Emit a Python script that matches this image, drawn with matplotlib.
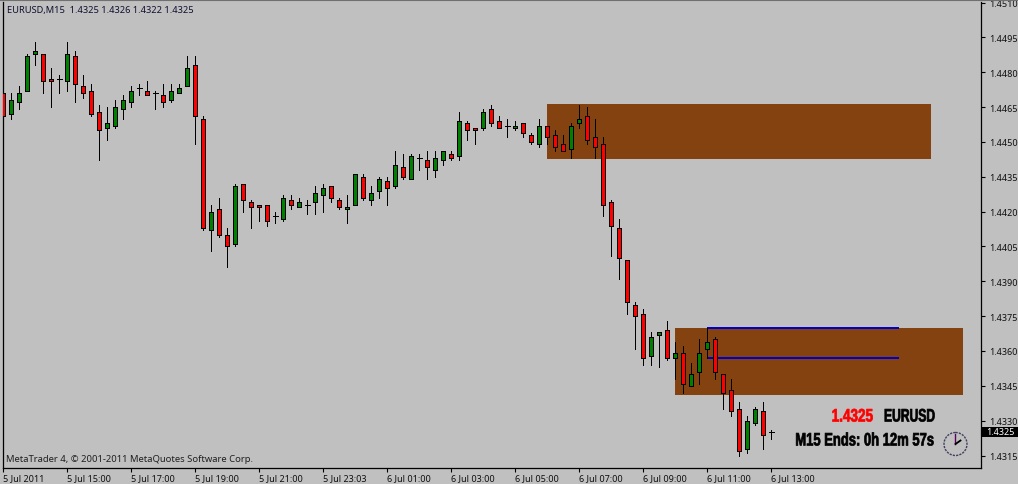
import numpy as np
import matplotlib
matplotlib.use('Agg')
import matplotlib.pyplot as plt
from matplotlib.patches import Circle, Rectangle
from matplotlib.patheffects import AbstractPathEffect
from matplotlib.transforms import Affine2D

W, H = 1018, 485
BG = '#C0C0C0'

# EURUSD M15 candles
opens = [
    1.4471, 1.4462, 1.4467, 1.4472, 1.4488, 1.4488, 1.4477, 1.4477, 1.4476, 1.4487,
    1.4474, 1.4472, 1.4463, 1.4456, 1.4457, 1.4464, 1.4467, 1.4473, 1.4472, 1.4471,
    1.4470, 1.4468, 1.4471, 1.4474, 1.4483, 1.4460, 1.4412, 1.4421, 1.4410, 1.4406,
    1.4432, 1.4424, 1.4423, 1.4423, 1.4418, 1.4417, 1.4425, 1.4422, 1.4423, 1.4424,
    1.4427, 1.4431, 1.4425, 1.4421, 1.4423, 1.4435, 1.4425, 1.4429, 1.4433, 1.4431,
    1.4439, 1.4434, 1.4443, 1.4442, 1.4438, 1.4442, 1.4445, 1.4444, 1.4458, 1.4456,
    1.4456, 1.4464, 1.4459, 1.4457, 1.4456, 1.4458, 1.4453, 1.4449, 1.4457, 1.4453,
    1.4449, 1.4447, 1.4458, 1.4461, 1.4452, 1.4449, 1.4424, 1.4413, 1.4399, 1.4380,
    1.4376, 1.4358, 1.4367, 1.4369, 1.4357, 1.4359, 1.4345, 1.4351, 1.4361, 1.4365,
    1.4350, 1.4343, 1.4335, 1.4318, 1.4329, 1.4334, 1.4325,
]
highs = [
    1.4472, 1.4471, 1.4474, 1.4488, 1.4493, 1.4488, 1.4482, 1.4479, 1.4493, 1.4489,
    1.4479, 1.4475, 1.4466, 1.4465, 1.4468, 1.4470, 1.4474, 1.4475, 1.4476, 1.4472,
    1.4475, 1.4475, 1.4475, 1.4487, 1.4487, 1.4461, 1.4423, 1.4426, 1.4413, 1.4432,
    1.4432, 1.4425, 1.4423, 1.4423, 1.4420, 1.4427, 1.4427, 1.4426, 1.4425, 1.4431,
    1.4432, 1.4431, 1.4426, 1.4427, 1.4436, 1.4436, 1.4431, 1.4435, 1.4435, 1.4446,
    1.4445, 1.4445, 1.4445, 1.4446, 1.4446, 1.4446, 1.4446, 1.4463, 1.4459, 1.4456,
    1.4464, 1.4466, 1.4461, 1.4460, 1.4459, 1.4458, 1.4454, 1.4460, 1.4457, 1.4455,
    1.4453, 1.4458, 1.4466, 1.4465, 1.4460, 1.4452, 1.4425, 1.4417, 1.4399, 1.4381,
    1.4378, 1.4368, 1.4368, 1.4373, 1.4364, 1.4362, 1.4355, 1.4365, 1.4370, 1.4366,
    1.4350, 1.4348, 1.4338, 1.4332, 1.4336, 1.4338, 1.4326,
]
lows = [
    1.4457, 1.4460, 1.4464, 1.4472, 1.4483, 1.4471, 1.4465, 1.4471, 1.4472, 1.4467,
    1.4469, 1.4461, 1.4442, 1.4451, 1.4456, 1.4460, 1.4465, 1.4470, 1.4470, 1.4464,
    1.4465, 1.4467, 1.4471, 1.4474, 1.4449, 1.4412, 1.4403, 1.4409, 1.4396, 1.4405,
    1.4420, 1.4413, 1.4416, 1.4414, 1.4415, 1.4416, 1.4421, 1.4422, 1.4419, 1.4419,
    1.4420, 1.4424, 1.4421, 1.4415, 1.4423, 1.4425, 1.4423, 1.4426, 1.4423, 1.4430,
    1.4434, 1.4434, 1.4438, 1.4434, 1.4435, 1.4440, 1.4442, 1.4442, 1.4451, 1.4449,
    1.4455, 1.4457, 1.4456, 1.4452, 1.4455, 1.4452, 1.4449, 1.4448, 1.4449, 1.4446,
    1.4446, 1.4443, 1.4456, 1.4449, 1.4443, 1.4418, 1.4401, 1.4391, 1.4376, 1.4361,
    1.4354, 1.4354, 1.4353, 1.4356, 1.4348, 1.4342, 1.4345, 1.4346, 1.4357, 1.4348,
    1.4335, 1.4332, 1.4315, 1.4316, 1.4328, 1.4318, 1.4322,
]
closes = [
    1.4461, 1.4468, 1.4471, 1.4487, 1.4489, 1.4476, 1.4476, 1.4477, 1.4488, 1.4475,
    1.4471, 1.4462, 1.4455, 1.4458, 1.4465, 1.4468, 1.4472, 1.4473, 1.4470, 1.4471,
    1.4467, 1.4472, 1.4473, 1.4482, 1.4461, 1.4413, 1.4420, 1.4410, 1.4405, 1.4431,
    1.4425, 1.4422, 1.4422, 1.4416, 1.4418, 1.4426, 1.4423, 1.4424, 1.4423, 1.4428,
    1.4430, 1.4426, 1.4422, 1.4422, 1.4436, 1.4426, 1.4428, 1.4434, 1.4430, 1.4440,
    1.4435, 1.4444, 1.4443, 1.4439, 1.4443, 1.4446, 1.4443, 1.4459, 1.4455, 1.4455,
    1.4463, 1.4458, 1.4456, 1.4457, 1.4457, 1.4454, 1.4450, 1.4457, 1.4452, 1.4448,
    1.4446, 1.4457, 1.4460, 1.4451, 1.4448, 1.4423, 1.4414, 1.4400, 1.4381, 1.4375,
    1.4357, 1.4366, 1.4368, 1.4357, 1.4359, 1.4346, 1.4350, 1.4359, 1.4364, 1.4351,
    1.4342, 1.4334, 1.4317, 1.4330, 1.4335, 1.4324, 1.4325,
]

price_ticks = [1.4510, 1.4495, 1.4480, 1.4465, 1.4450, 1.4435, 1.4420, 1.4405,
               1.4390, 1.4375, 1.4360, 1.4345, 1.4330, 1.4315]
time_labels = ['5 Jul 2011', '5 Jul 15:00', '5 Jul 17:00', '5 Jul 19:00', '5 Jul 21:00',
               '5 Jul 23:03', '6 Jul 01:00', '6 Jul 03:00', '6 Jul 05:00', '6 Jul 07:00',
               '6 Jul 09:00', '6 Jul 11:00', '6 Jul 13:00']
bars_per_label = 8

# supply/demand boxes: first bar, last bar, top price, bottom price
zone_upper = (68, 116, 1.44665, 1.44425)
zone_lower = (84, 120, 1.4370, 1.4341)
# blue levels: first bar, last bar, price
level_top = (88, 112, 1.4370)
level_mid = (88, 112, 1.4357)

current_price = closes[-1]
header = 'EURUSD,M15  1.4325 1.4326 1.4322 1.4325'
footer = 'MetaTrader 4, © 2001-2011 MetaQuotes Software Corp.'
ui_font = 'Noto Sans'
bold_font = 'Liberation Sans'


class Squeeze(AbstractPathEffect):
    # no narrow bold font is installed, so squeeze the glyphs sideways around x0 (pixels)
    def __init__(self, sx, x0):
        super().__init__()
        self.sx = sx
        self.x0 = x0

    def draw_path(self, renderer, gc, tpath, affine, rgbFace=None):
        squeeze = Affine2D().translate(-self.x0, 0).scale(self.sx, 1).translate(self.x0, 0)
        gc0 = renderer.new_gc()
        gc0.copy_properties(gc)
        gc0.set_linewidth(0.5)
        gc0.set_foreground(rgbFace)
        renderer.draw_path(gc0, tpath, affine + squeeze, rgbFace)
        gc0.restore()


fig = plt.figure(figsize=(W / 100, H / 100), dpi=100, facecolor=BG)
# plot frame spans x 2.5..980.5 and y 2.5..468.5 in pixels
ax = fig.add_axes([2.5 / W, 1 - 468.5 / H, 978 / W, 466 / H], facecolor=BG)
ax.set_xlim(-0.0875, 122.1625)
ax.set_ylim(1.4510 - 465 / 23233, 1.4510 + 1 / 23233)

for left, right, top, bottom in [zone_upper, zone_lower]:
    ax.add_patch(Rectangle((left, bottom), right - left, top - bottom,
                           facecolor='#844211', edgecolor='none', zorder=1))
for left, right, price in [level_top, level_mid]:
    ax.plot([left, right], [price, price], color='#0000CD', lw=1.44, zorder=2,
            solid_capstyle='butt', antialiased=False)

x = np.arange(len(opens))
o = np.array(opens)
c = np.array(closes)
ax.vlines(x, lows, highs, color='black', lw=0.72, zorder=3, antialiased=False)
colors = np.where(c > o, '#008000', '#FF0000')
flat = c == o
ax.bar(x[~flat], np.abs(c - o)[~flat], bottom=np.minimum(o, c)[~flat], width=0.5,
       color=colors[~flat], edgecolor='black', lw=0.72, zorder=4, antialiased=False)
ax.hlines(c[flat], x[flat] - 0.3, x[flat] + 0.3, color='black', lw=0.72, zorder=4,
          antialiased=False)

for s in ax.spines.values():
    s.set_linewidth(0.9)
    s.set_color('black')
ax.spines['top'].set_visible(False)

ax.yaxis.tick_right()
ax.set_yticks(price_ticks)
ax.set_yticklabels([f'{p:.4f}' for p in price_ticks], fontsize=6.5, family=ui_font,
                   color='#101010')
ax.tick_params(axis='y', length=3, width=0.8, pad=3)
ax.set_xticks(x[::bars_per_label])
ax.set_xticklabels(time_labels, fontsize=6.5, family=ui_font, color='#101010', ha='left')
ax.tick_params(axis='x', length=3, width=0.8, pad=1)

# overlay in pixel coordinates for the terminal's own labels
ov = fig.add_axes([0, 0, 1, 1], facecolor='none')
ov.set_xlim(0, W)
ov.set_ylim(H, 0)
ov.axis('off')

ov.plot([0, W], [0.8, 0.8], color='#707070', lw=0.8)
ov.add_patch(Rectangle((982, 428), 36, 9.5, facecolor='black', edgecolor='none', zorder=5))
ov.text(986.5, 432.8, f'{current_price:.4f}', color='white', fontsize=6.5, family=ui_font,
        va='center', zorder=6)
ov.text(7, 10.5, header, fontsize=6.7, family=ui_font, color='#101030', va='center')
ov.text(6, 460, footer, fontsize=6.8, family=ui_font, color='#202020', va='center')

price_txt = ov.text(873, 418, f'{current_price:.4f}', color='#FF0000', fontsize=13,
                    fontweight='bold', family=bold_font, ha='right', va='center')
price_txt.set_path_effects([Squeeze(0.75, 873)])
sym_txt = ov.text(884, 418, 'EURUSD', color='black', fontsize=13, fontweight='bold',
                  family=bold_font, ha='left', va='center')
sym_txt.set_path_effects([Squeeze(0.67, 884)])
timer_txt = ov.text(934, 442, 'M15 Ends: 0h 12m 57s', color='black', fontsize=13,
                    fontweight='bold', family=bold_font, ha='right', va='center')
timer_txt.set_path_effects([Squeeze(0.72, 934)])

# clock icon
clock_x, clock_y, clock_r = 955.5, 445, 11.5
ov.add_patch(Circle((clock_x, clock_y), clock_r, facecolor='none', edgecolor='#404060',
                    lw=1.0, ls=(0, (1.6, 0.8))))
ov.plot([clock_x, clock_x], [clock_y, clock_y - 10], color='#600060', lw=1.0)
ov.plot([clock_x, clock_x + 5], [clock_y, clock_y - 3.5], color='black', lw=1.3)

fig.savefig('out.png', dpi=100, facecolor=BG)
